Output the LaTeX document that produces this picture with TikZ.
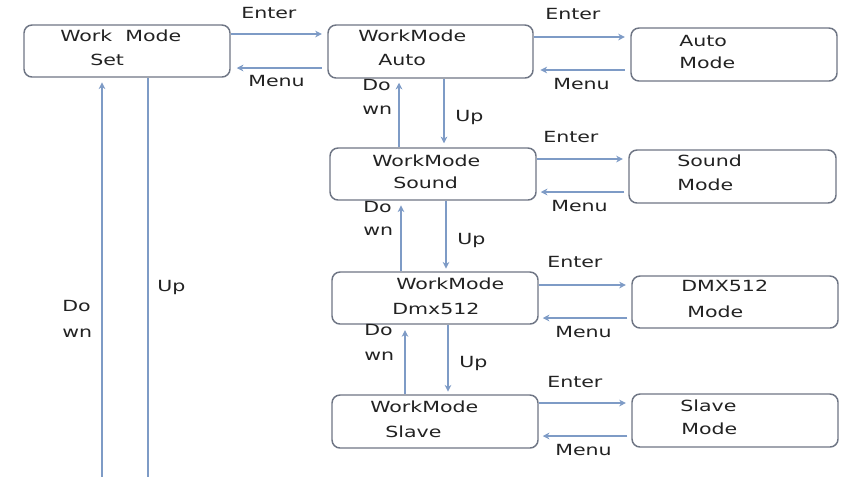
\documentclass[tikz,border=0pt]{standalone}
\usepackage{fontspec}
\setmainfont[FakeStretch=1.34]{DejaVu Sans}
\usetikzlibrary{fit,arrows.meta}
\definecolor{boxc}{HTML}{6E7584}
\definecolor{arrc}{HTML}{7E9BC6}
\definecolor{txtc}{HTML}{222222}
\begin{document}
\begin{tikzpicture}[x=0.75pt,y=-0.75pt,
  font=\fontsize{11.5}{13}\selectfont,
  box/.style={draw=boxc, line width=1.1pt, rounded corners=6pt, inner sep=0pt},
  arr/.style={draw=arrc, line width=1.1pt, -{Stealth[length=5pt,width=5pt,inset=1.5pt]}},
  plain/.style={draw=arrc, line width=1.1pt},
  lbl/.style={anchor=west, inner sep=0pt, text height=1.34ex, text depth=0pt, text=txtc},
  hs/.style={shorten >=4pt, shorten <=0pt}]
\useasboundingbox (0,0) rectangle (841,476);
% boxes
\node[box, fit={(24,25) (230,77)}] (set) {};
\node[box, fit={(328,25) (533,78)}] (auto) {};
\node[box, fit={(631,28) (837,81)}] (automode) {};
\node[box, fit={(330,148) (536,200)}] (sound) {};
\node[box, fit={(629,150) (836,203)}] (soundmode) {};
\node[box, fit={(332,272) (538,324)}] (dmx) {};
\node[box, fit={(632,276) (838,328)}] (dmxmode) {};
\node[box, fit={(332,395) (538,448)}] (slave) {};
\node[box, fit={(632,394) (838,447)}] (slavemode) {};
% box texts
\node[lbl] (t1) at (60,37) {Work\ \ Mode};
\node[lbl] (t2) at (90,61) {Set};
\node[lbl] (t3) at (358,37) {WorkMode};
\node[lbl] (t4) at (378,61) {Auto};
\node[lbl] (t5) at (679,42) {Auto};
\node[lbl] (t6) at (679,64) {Mode};
\node[lbl] (t7) at (372,162) {WorkMode};
\node[lbl] (t8) at (393,184) {Sound};
\node[lbl] (t9) at (677,162) {Sound};
\node[lbl] (t10) at (677,186) {Mode};
\node[lbl] (t11) at (396,285) {WorkMode};
\node[lbl] (t12) at (392,310) {Dmx512};
\node[lbl] (t13) at (681,287) {DMX512};
\node[lbl] (t14) at (687,313) {Mode};
\node[lbl] (t15) at (370,408) {WorkMode};
\node[lbl] (t16) at (385,433) {Slave};
\node[lbl] (t17) at (680,407) {Slave};
\node[lbl] (t18) at (681,430) {Mode};
% horizontal connectors
\draw[arr,hs] (set.east |- 0,34) -- (auto.west |- 0,34);
\draw[arr,shorten <=4pt,shorten >=4.5pt] (auto.west |- 0,68) -- (set.east |- 0,68);
\draw[arr,hs] (auto.east |- 0,37) -- (automode.west |- 0,37);
\draw[arr,shorten <=4pt,shorten >=5pt] (automode.west |- 0,70) -- (auto.east |- 0,70);
\draw[arr,hs] (sound.east |- 0,159) -- (soundmode.west |- 0,159);
\draw[arr,shorten <=3pt,shorten >=3pt] (soundmode.west |- 0,192) -- (sound.east |- 0,192);
\draw[arr,hs] (dmx.east |- 0,285) -- (dmxmode.west |- 0,285);
\draw[arr,shorten <=3pt,shorten >=3pt] (dmxmode.west |- 0,318) -- (dmx.east |- 0,318);
\draw[arr,hs] (slave.east |- 0,403) -- (slavemode.west |- 0,403);
\draw[arr,shorten <=3pt,shorten >=3pt] (slavemode.west |- 0,436) -- (slave.east |- 0,436);
% horizontal labels
\node[lbl] (e1) at (241,14) {Enter};
\node[lbl] (m1) at (248,82) {Menu};
\node[lbl] (e2) at (545,15) {Enter};
\node[lbl] (m2) at (553,85) {Menu};
\node[lbl] (e3) at (543,138) {Enter};
\node[lbl] (m3) at (551,207) {Menu};
\node[lbl] (e4) at (547,263) {Enter};
\node[lbl] (m4) at (555,333) {Menu};
\node[lbl] (e5) at (547,383) {Enter};
\node[lbl] (m5) at (555,451) {Menu};
% vertical connectors
\draw[arr,shorten >=3pt] (444,0 |- auto.south) -- (444,0 |- sound.north);
\draw[arr,shorten >=3pt] (399,0 |- sound.north) -- (399,0 |- auto.south);
\draw[arr,shorten >=2pt] (446,0 |- sound.south) -- (446,0 |- dmx.north);
\draw[arr,shorten >=3.5pt] (401,0 |- dmx.north) -- (401,0 |- sound.south);
\draw[arr,shorten >=2pt] (448,0 |- dmx.south) -- (448,0 |- slave.north);
\draw[arr,shorten >=4pt] (405,0 |- slave.north) -- (405,0 |- dmx.south);
% left loop
\coordinate (ldown) at (102,478);
\coordinate (lup) at (148,478);
\draw[arr,shorten >=3.5pt] (ldown) -- (ldown |- set.south);
\draw[plain] (lup |- set.south) -- (lup);
% vertical labels
\node[lbl] (d1a) at (362,86) {Do};
\node[lbl] (d1b) at (362,110) {wn};
\node[lbl] (u1) at (455,117) {Up};
\node[lbl] (d2a) at (363,208) {Do};
\node[lbl] (d2b) at (363,231) {wn};
\node[lbl] (u2) at (457,240) {Up};
\node[lbl] (d3a) at (364,331) {Do};
\node[lbl] (d3b) at (364,356) {wn};
\node[lbl] (u3) at (459,363) {Up};
\node[lbl] (d4a) at (62,307) {Do};
\node[lbl] (d4b) at (62,333) {wn};
\node[lbl] (u4) at (157,287) {Up};
\end{tikzpicture}
\end{document}
